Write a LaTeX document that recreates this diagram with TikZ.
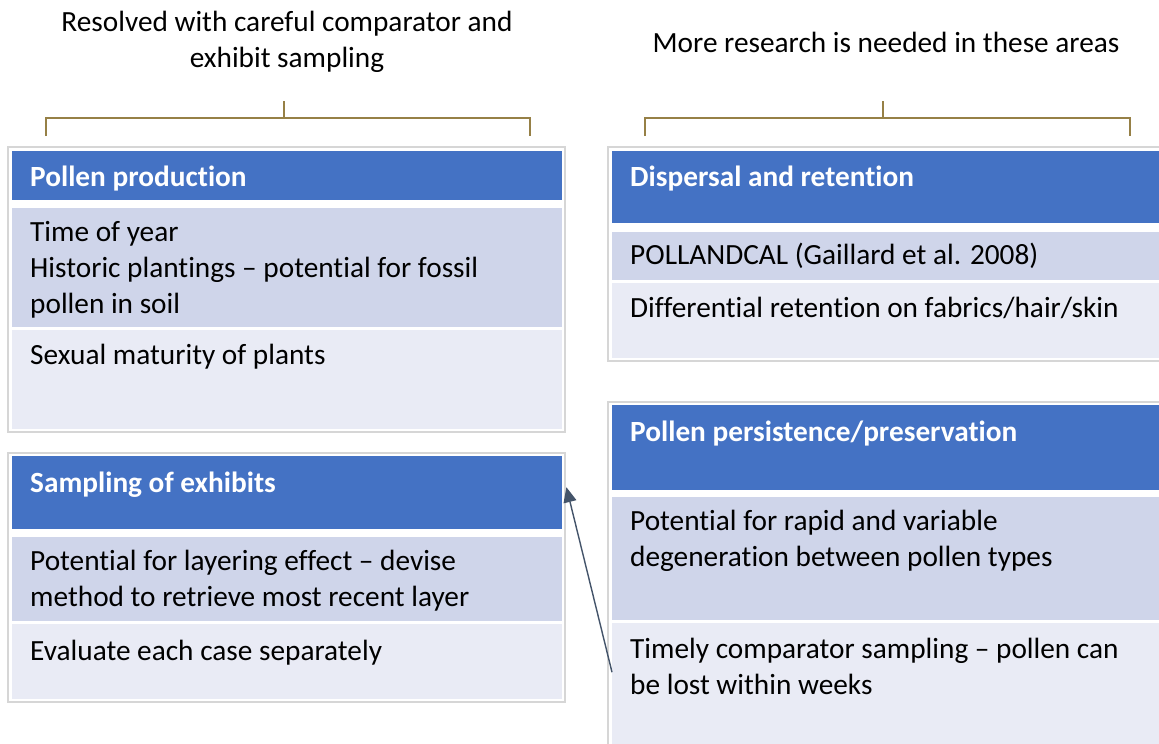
\documentclass[tikz,border=0pt]{standalone}
\usepackage{fontspec}
\setmainfont{Carlito}[Ligatures={TeX,NoCommon},Contextuals=NoAlternate,RawFeature={-liga;-calt;-clig}]
\usetikzlibrary{arrows.meta}

\definecolor{hdrblue}{HTML}{4472C4}
\definecolor{rowdark}{HTML}{CFD5EA}
\definecolor{rowlight}{HTML}{E9EBF5}
\definecolor{framegray}{HTML}{D6D6D6}
\definecolor{bracketbrown}{RGB}{150,128,70}
\definecolor{arrowslate}{HTML}{44546A}

\tikzset{
	cell/.style={rectangle, anchor=north west, inner sep=0pt, minimum width=550pt},
	hdr/.style={cell, fill=hdrblue},
	rowA/.style={cell, fill=rowdark},
	rowB/.style={cell, fill=rowlight},
	frame/.style={draw=framegray, line width=1.2pt, fill=white},
	celltext/.style={anchor=base west, align=left, inner sep=0pt, font=\fontsize{29.3}{36}\selectfont},
	hdrtext/.style={celltext, text=white, font=\fontsize{29.3}{36}\selectfont\bfseries},
	title/.style={anchor=base, align=center, inner sep=0pt, font=\fontsize{29.3}{36}\selectfont},
	bracket/.style={draw=bracketbrown, line width=1.6pt},
}

\begin{document}
\begin{tikzpicture}[x=1pt, y=-1pt]
	\clip (0,0) rectangle (1159,744);
	\fill[white] (0,0) rectangle (1159,744);
	
	% Titles (base = last line)
	\node[title] (lefttitle) at (287,67) {Resolved with careful comparator and\\exhibit sampling};
	\node[title] (righttitle) at (886,52) {More research is needed in these areas};
	
	% Brackets
	\draw[bracket] (46,136) -- (46,118) -- (530,118) -- (530,136);
	\draw[bracket] (284,101) -- (284,118);
	\draw[bracket] (645,136) -- (645,118) -- (1130,118) -- (1130,136);
	\draw[bracket] (883,101) -- (883,118);
	
	% Frames
	\draw[frame] (8,147) rectangle (565,432);
	\draw[frame] (608,147) rectangle (1165,361);
	\draw[frame] (8,453) rectangle (565,702);
	\draw[frame] (608,402) rectangle (1165,750);
	
	% Pollen production
	\node[hdr, minimum height=49pt] (pp) at (12,151) {};
	\node[rowA, minimum height=119pt] (ppA) at (12,208) {};
	\node[rowB, minimum height=99pt] (ppB) at (12,330) {};
	\node[hdrtext] (ppt) at ([shift={(18,35)}]pp.north west) {Pollen production};
	\node[celltext] (ppAt) at ([shift={(18,105)}]ppA.north west) {Time of year\\Historic plantings -- potential for fossil\\pollen in soil};
	\node[celltext] (ppBt) at ([shift={(18,34)}]ppB.north west) {Sexual maturity of plants};
	
	% Dispersal and retention
	\node[hdr, minimum height=72pt] (dr) at (612,151) {};
	\node[rowA, minimum height=48pt] (drA) at (612,232) {};
	\node[rowB, minimum height=75pt] (drB) at (612,283) {};
	\node[hdrtext] (drt) at ([shift={(18,35)}]dr.north west) {Dispersal and retention};
	\node[celltext] (drAt) at ([shift={(18,32)}]drA.north west) {POLLANDCAL (Gaillard et al. 2008)};
	\node[celltext] (drBt) at ([shift={(18,34)}]drB.north west) {Differential retention on fabrics/hair/skin};
	
	% Sampling of exhibits
	\node[hdr, minimum height=73pt] (se) at (12,456) {};
	\node[rowA, minimum height=84pt] (seA) at (12,537) {};
	\node[rowB, minimum height=75pt] (seB) at (12,624) {};
	\node[hdrtext] (set) at ([shift={(18,36)}]se.north west) {Sampling of exhibits};
	\node[celltext] (seAt) at ([shift={(18,69)}]seA.north west) {Potential for layering effect -- devise\\method to retrieve most recent layer};
	\node[celltext] (seBt) at ([shift={(18,36)}]seB.north west) {Evaluate each case separately};
	
	% Pollen persistence/preservation
	\node[hdr, minimum height=85pt] (ps) at (612,405) {};
	\node[rowA, minimum height=123pt] (psA) at (612,497) {};
	\node[rowB, minimum height=125pt] (psB) at (612,623) {};
	\node[hdrtext] (pst) at ([shift={(18,36)}]ps.north west) {Pollen persistence/preservation};
	\node[celltext] (psAt) at ([shift={(18,69)}]psA.north west) {Potential for rapid and variable\\degeneration between pollen types};
	\node[celltext] (psBt) at ([shift={(18,71)}]psB.north west) {Timely comparator sampling -- pollen can\\be lost within weeks};
	
	% Link
	\draw[arrowslate, line width=1.4pt, -{Triangle[length=15pt,width=13pt]}] ([yshift=13.5pt]psB.west) -- ([xshift=4pt,yshift=5.5pt]se.east);
	
\end{tikzpicture}
\end{document}
